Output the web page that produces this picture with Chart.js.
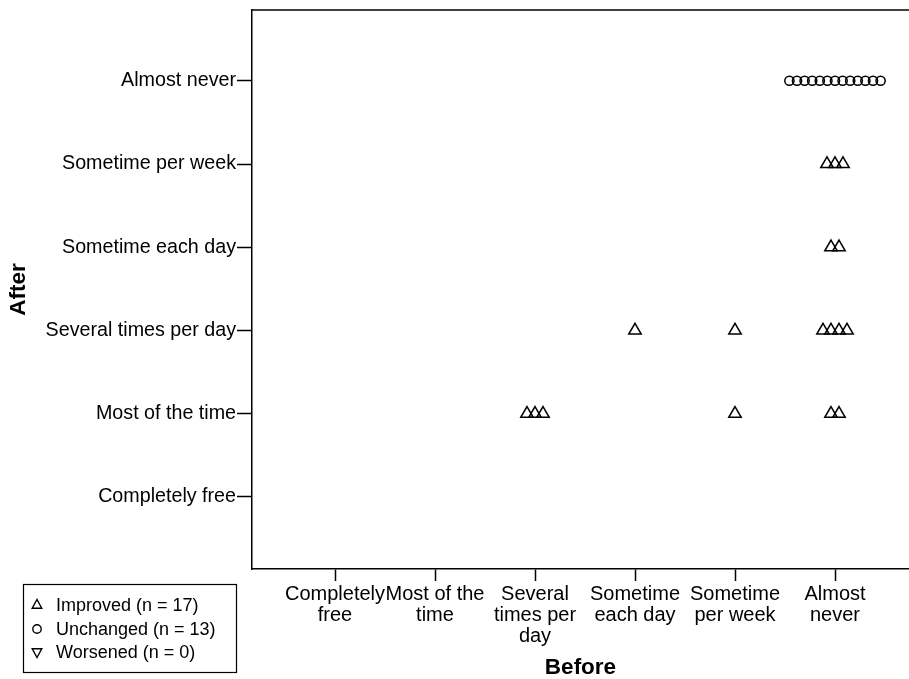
<!DOCTYPE html>
<html>
<head>
<meta charset="utf-8">
<script src="https://cdn.jsdelivr.net/npm/chart.js@4/dist/chart.umd.min.js"></script>
<style>
html,body{margin:0;padding:0;background:#fff;overflow:hidden;}
#wrap{position:relative;width:909px;height:679px;}
</style>
</head>
<body>
<div id="wrap"><canvas id="c" width="909" height="679"></canvas></div>
<script>
// Ordinal categories (index 0..5)
const beforeLabels = [['Completely','free'], ['Most of the','time'], ['Several','times per','day'], ['Sometime','each day'], ['Sometime','per week'], ['Almost','never']];
const afterLabels = ['Completely free', 'Most of the time', 'Several times per day', 'Sometime each day', 'Sometime per week', 'Almost never'];

// Improved (n = 17): groups of (before, after, count)
const improvedBefore = [2, 4, 5, 3, 4, 5, 5, 5];
const improvedAfter  = [1, 1, 1, 2, 2, 2, 3, 4];
const improvedCount  = [3, 1, 2, 1, 1, 4, 2, 3];

// Unchanged (n = 13)
const unchangedBefore = [5];
const unchangedAfter  = [5];
const unchangedCount  = [13];

// Worsened (n = 0)
const worsenedBefore = [];
const worsenedAfter  = [];
const worsenedCount  = [];

const legendLabels = ['Improved (n = 17)', 'Unchanged (n = 13)', 'Worsened (n = 0)'];

// dot-plot stacking: identical points placed side by side
function stackPoints(bef, aft, cnt, step) {
  const pts = [];
  for (let g = 0; g < bef.length; g++) {
    for (let i = 0; i < cnt[g]; i++) {
      pts.push({ x: bef[g] + (i - (cnt[g] - 1) / 2) * step, y: aft[g] });
    }
  }
  return pts;
}

const FONT = '"Liberation Sans", Arial, Helvetica, sans-serif';

const framePlugin = {
  id: 'frame',
  afterDraw(chart) {
    const { ctx, chartArea } = chart;
    ctx.save();
    ctx.strokeStyle = '#000';
    ctx.lineWidth = 1.5;
    ctx.beginPath();
    ctx.moveTo(chartArea.left, chartArea.top);
    ctx.lineTo(chartArea.right, chartArea.top);
    ctx.stroke();

    // legend box
    const bx = 23, by = 584, bw = 213, bh = 88;
    ctx.lineWidth = 1.2;
    ctx.strokeRect(bx + 0.5, by + 0.5, bw, bh);
    const rows = [605, 629, 652];
    ctx.lineWidth = 1.4;
    const sx = 37;
    let r = 5.5;
    // up triangle
    ctx.beginPath();
    ctx.moveTo(sx, rows[0] - r);
    ctx.lineTo(sx + r * 0.866, rows[0] + r * 0.5 + 0.5);
    ctx.lineTo(sx - r * 0.866, rows[0] + r * 0.5 + 0.5);
    ctx.closePath();
    ctx.stroke();
    // circle
    ctx.beginPath();
    ctx.arc(sx, rows[1], 4.2, 0, Math.PI * 2);
    ctx.stroke();
    // down triangle
    ctx.beginPath();
    ctx.moveTo(sx, rows[2] + r);
    ctx.lineTo(sx + r * 0.866, rows[2] - r * 0.5 - 0.5);
    ctx.lineTo(sx - r * 0.866, rows[2] - r * 0.5 - 0.5);
    ctx.closePath();
    ctx.stroke();

    ctx.fillStyle = '#000';
    ctx.font = '18px ' + FONT;
    ctx.textAlign = 'left';
    ctx.textBaseline = 'middle';
    legendLabels.forEach((t, i) => ctx.fillText(t, 56, rows[i] + 1));
    ctx.restore();
  }
};

new Chart(document.getElementById('c'), {
  type: 'scatter',
  data: {
    datasets: [
      {
        label: legendLabels[0],
        data: stackPoints(improvedBefore, improvedAfter, improvedCount, 0.08),
        pointStyle: 'triangle',
        pointRadius: 7.2,
        borderColor: '#000',
        backgroundColor: 'rgba(0,0,0,0)',
        borderWidth: 1.5
      },
      {
        label: legendLabels[1],
        data: stackPoints(unchangedBefore, unchangedAfter, unchangedCount, 0.076),
        pointStyle: 'circle',
        pointRadius: 4.6,
        borderColor: '#000',
        backgroundColor: 'rgba(0,0,0,0)',
        borderWidth: 1.5
      },
      {
        label: legendLabels[2],
        data: stackPoints(worsenedBefore, worsenedAfter, worsenedCount, 0.08),
        pointStyle: 'triangle',
        rotation: 180,
        pointRadius: 7.2,
        borderColor: '#000',
        backgroundColor: 'rgba(0,0,0,0)',
        borderWidth: 1.5
      }
    ]
  },
  options: {
    responsive: false,
    animation: false,
    events: [],
    layout: { autoPadding: false, padding: { top: 10, left: 0, right: 0, bottom: 0 } },
    plugins: { legend: { display: false }, tooltip: { enabled: false } },
    scales: {
      x: {
        type: 'linear',
        min: -0.83,
        max: 5.74,
        afterFit(s) { s.height = 110; s.paddingLeft = 0; s.paddingRight = 0; },
        afterBuildTicks(s) { s.ticks = beforeLabels.map((_, i) => ({ value: i })); },
        ticks: {
          autoSkip: false,
          maxRotation: 0,
          padding: 3,
          color: '#000',
          font: { family: FONT, size: 20, lineHeight: 1.05 },
          callback: (v) => beforeLabels[v]
        },
        grid: { drawOnChartArea: false, drawTicks: true, tickLength: 12, tickColor: '#000', tickWidth: 1.5 },
        border: { display: true, color: '#000', width: 1.5 },
        title: {
          display: true,
          text: 'Before',
          color: '#000',
          font: { family: FONT, size: 22.5, weight: 'bold', lineHeight: 1.0 },
          padding: { top: 0, bottom: 0 }
        }
      },
      y: {
        type: 'linear',
        min: -0.865,
        max: 5.85,
        afterFit(s) { s.width = 252; s.paddingTop = 0; s.paddingBottom = 0; },
        afterBuildTicks(s) { s.ticks = afterLabels.map((_, i) => ({ value: i })); },
        ticks: {
          autoSkip: false,
          padding: 1,
          color: '#000',
          font: { family: FONT, size: 19.7 },
          callback: (v) => afterLabels[v]
        },
        grid: { drawOnChartArea: false, drawTicks: true, tickLength: 15, tickColor: '#000', tickWidth: 1.5 },
        border: { display: true, color: '#000', width: 1.5 },
        title: {
          display: true,
          text: 'After',
          color: '#000',
          font: { family: FONT, size: 22.5, weight: 'bold', lineHeight: 1.0 },
          padding: { top: 8, bottom: 0 }
        }
      }
    }
  },
  plugins: [framePlugin]
});
</script>
</body>
</html>
